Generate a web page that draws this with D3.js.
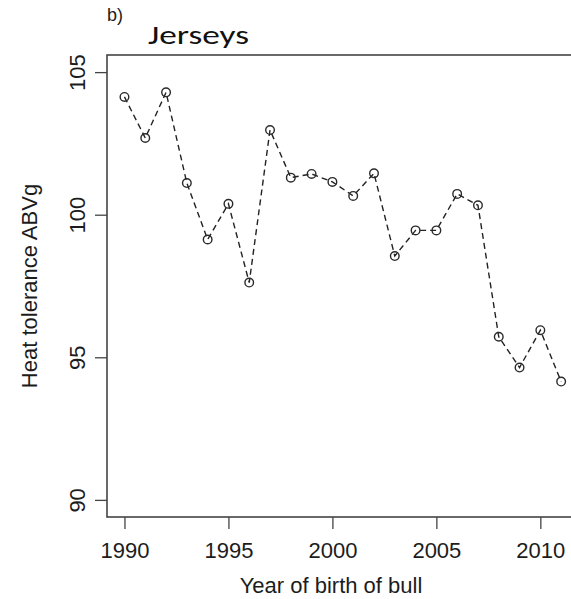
<!DOCTYPE html>
<html>
<head>
<meta charset="utf-8">
<script src="https://cdn.jsdelivr.net/npm/d3@7/dist/d3.min.js"></script>
<style>
  html, body { margin: 0; padding: 0; background: #fff; }
  svg { display: block; }
</style>
</head>
<body>
<svg id="chart" width="571" height="599"></svg>
<script>
// ---- data ----
const years = [1990, 1991, 1992, 1993, 1994, 1995, 1996, 1997, 1998, 1999, 2000,
               2001, 2002, 2003, 2004, 2005, 2006, 2007, 2008, 2009, 2010, 2011];
const values = [104.13, 102.69, 104.29, 101.11, 99.13, 100.38, 97.62, 102.97, 101.30, 101.43, 101.15,
                100.66, 101.45, 98.55, 99.45, 99.45, 100.73, 100.33, 95.72, 94.64, 95.95, 94.15];
const xTicks = [1990, 1995, 2000, 2005, 2010];
const yTicks = [90, 95, 100, 105];
const panelLabel = "b)";
const title = "Jerseys";
const xTitle = "Year of birth of bull";
const yTitle = "Heat tolerance ABVg";

// ---- layout ----
const svg = d3.select("#chart");
const plotLeft = 107, plotTop = 55, plotBottom = 517, plotRight = 578.6;
const axisColor = "#444";
const textColor = "#1c1c1c";
const axisFont = "'Liberation Sans', Arial, Helvetica, sans-serif";

const x = d3.scaleLinear()
  .domain([years[0] - 0.04 * (years[years.length - 1] - years[0]),
           years[years.length - 1] + 0.04 * (years[years.length - 1] - years[0])])
  .range([plotLeft, plotRight]);
const y = d3.scaleLinear()
  .domain([89.4, 105.6])
  .range([plotBottom, plotTop]);

// x axis
const gx = svg.append("g")
  .attr("transform", `translate(0,${plotBottom})`)
  .call(d3.axisBottom(x).tickValues(xTicks).tickFormat(d3.format("d")).tickSize(12).tickPadding(13.4));
gx.select(".domain").remove();
gx.selectAll(".tick line").attr("stroke", axisColor).attr("stroke-width", 1.3);
gx.selectAll(".tick text")
  .attr("fill", textColor)
  .style("font-family", axisFont)
  .style("font-size", "22px");

// y axis
const gy = svg.append("g")
  .attr("transform", `translate(${plotLeft},0)`)
  .call(d3.axisLeft(y).tickValues(yTicks).tickSize(12));
gy.select(".domain").remove();
gy.selectAll(".tick line").attr("stroke", axisColor).attr("stroke-width", 1.3);
gy.selectAll(".tick text")
  .attr("x", 0).attr("y", 0).attr("dy", 0)
  .attr("transform", "translate(-22,0) rotate(-90)")
  .attr("text-anchor", "middle")
  .attr("fill", textColor)
  .style("font-family", axisFont)
  .style("font-size", "22px");

// plot box
svg.append("rect")
  .attr("x", x.range()[0])
  .attr("y", y.range()[1])
  .attr("width", x.range()[1] - x.range()[0])
  .attr("height", y.range()[0] - y.range()[1])
  .attr("fill", "none")
  .attr("stroke", axisColor)
  .attr("stroke-width", 1.6);

// data line
const pts = years.map((yr, i) => ({ yr, v: values[i] }));
svg.append("path")
  .datum(pts)
  .attr("d", d3.line().x(d => x(d.yr)).y(d => y(d.v)))
  .attr("fill", "none")
  .attr("stroke", "#222")
  .attr("stroke-width", 1.4)
  .attr("stroke-dasharray", "6,4");

svg.append("g").selectAll("circle")
  .data(pts)
  .join("circle")
  .attr("cx", d => x(d.yr))
  .attr("cy", d => y(d.v))
  .attr("r", 4.3)
  .attr("fill", "none")
  .attr("stroke", "#2a2a2a")
  .attr("stroke-width", 1.4);

// axis titles
svg.append("text")
  .attr("x", 331).attr("y", 593)
  .attr("text-anchor", "middle")
  .attr("fill", textColor)
  .style("font-family", axisFont)
  .style("font-size", "22px")
  .text(xTitle);

svg.append("text")
  .attr("transform", `translate(37,${(plotTop + plotBottom) / 2}) rotate(-90)`)
  .attr("text-anchor", "middle")
  .attr("fill", textColor)
  .style("font-family", axisFont)
  .style("font-size", "22px")
  .text(yTitle);

// title and panel label
svg.append("text")
  .attr("x", 148).attr("y", 44)
  .attr("textLength", 101)
  .attr("lengthAdjust", "spacingAndGlyphs")
  .attr("fill", "#111")
  .style("font-family", "Carlito, 'Open Sans', Lato, sans-serif")
  .style("font-size", "27px")
  .style("font-weight", "400")
  .text(title);

svg.append("text")
  .attr("x", 107).attr("y", 21)
  .attr("fill", textColor)
  .style("font-family", axisFont)
  .style("font-size", "18px")
  .text(panelLabel);
</script>
</body>
</html>
